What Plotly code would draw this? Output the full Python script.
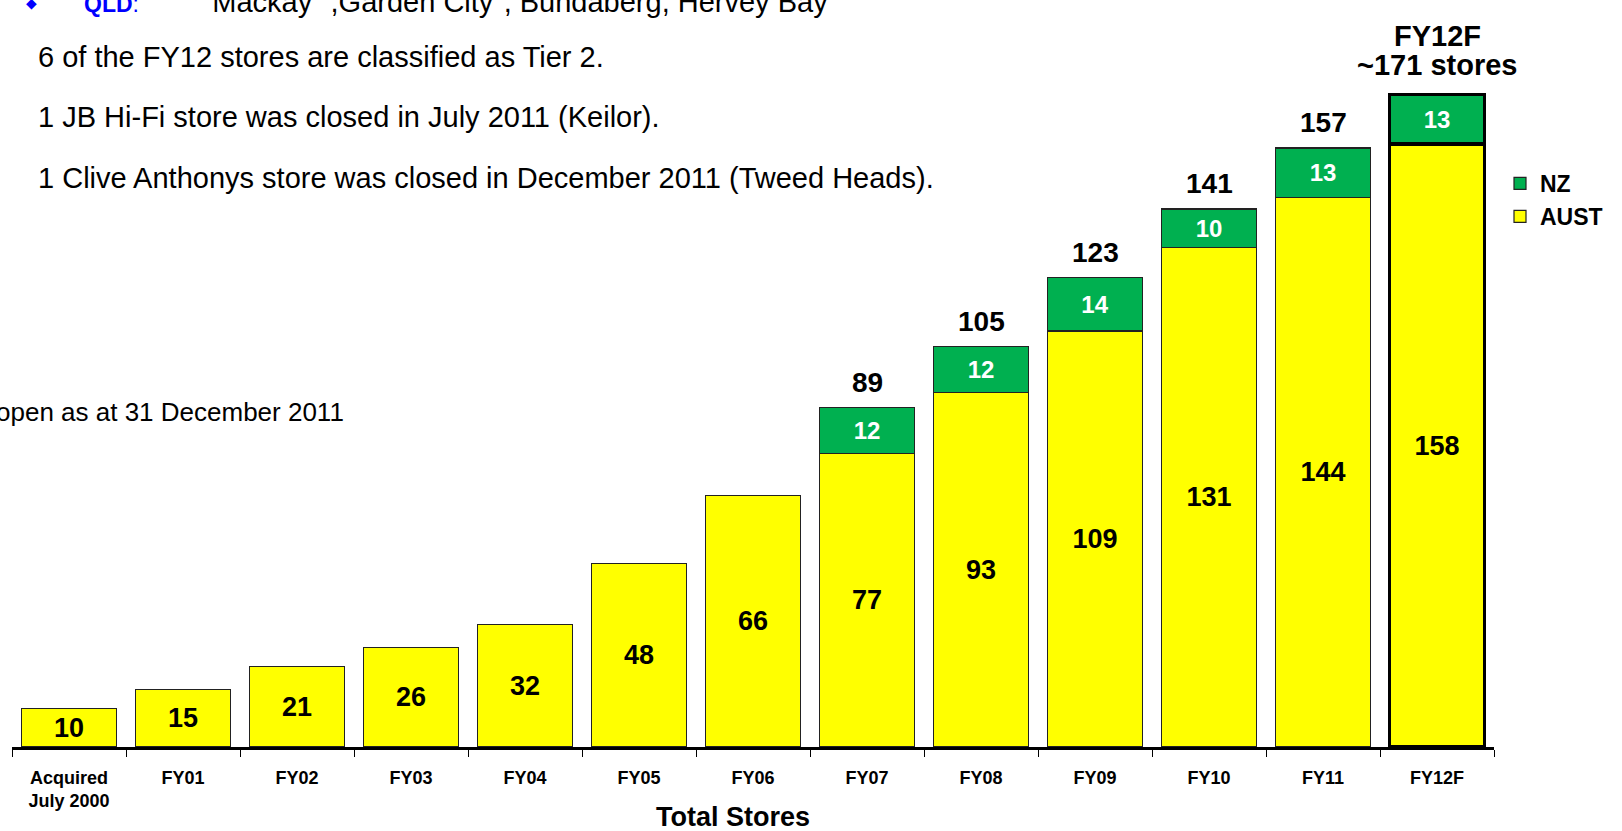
import plotly.graph_objects as go

# Store counts per year, split by country
categories = ["Acquired<br>July 2000", "FY01", "FY02", "FY03", "FY04", "FY05", "FY06",
              "FY07", "FY08", "FY09", "FY10", "FY11", "FY12F"]
aust_stores = [10, 15, 21, 26, 32, 48, 66, 77, 93, 109, 131, 144, 158]
nz_stores = [None, None, None, None, None, None, None, 12, 12, 14, 10, 13, 13]
forecast_label = "FY12F"
forecast_total = "~171 stores"

notes = [
    "6 of the FY12 stores are classified as Tier 2.",
    "1 JB Hi-Fi store was closed in July 2011 (Keilor).",
    "1 Clive Anthonys store was closed in December 2011 (Tweed Heads).",
]
qld_label = "QLD"
qld_text = "\"Mackay\" ,Garden City\", Bundaberg, Hervey Bay"
open_note = "open as at 31 December 2011"
axis_title = "Total Stores"
page_number = "21"

totals = [a + (n or 0) for a, n in zip(aust_stores, nz_stores)]

W, H = 1622, 831
L, R, T, B = 12, 128, 22, 84
plot_w = W - L - R
plot_h = H - T - B
FONT = "Arial, Liberation Sans, sans-serif"


def px(x):
    return (x - L) / plot_w


def py(y):
    return (H - B - y) / plot_h


n_cat = len(categories)
edge_w = [1.2] * (n_cat - 1) + [3.5]
edge_c = ["#222222"] * (n_cat - 1) + ["#000000"]

fig = go.Figure()
fig.add_trace(go.Bar(
    x=categories, y=aust_stores, name="AUST", legendrank=2,
    marker=dict(color="#FFFF00", line=dict(color=edge_c, width=edge_w)),
    texttemplate="<b>%{y}</b>", textposition="inside", insidetextanchor="middle",
    textangle=0, constraintext="none",
    textfont=dict(family=FONT, size=27, color="#000000"),
))
fig.add_trace(go.Bar(
    x=categories, y=nz_stores, name="NZ", legendrank=1,
    marker=dict(color="#00B050", line=dict(color=edge_c, width=edge_w)),
    texttemplate="<b>%{y}</b>", textposition="inside", insidetextanchor="middle",
    textangle=0, constraintext="none",
    textfont=dict(family=FONT, size=24, color="#FFFFFF"),
))

annotations = []
# totals above the stacked bars
for cat, n, tot in zip(categories[:-1], nz_stores[:-1], totals[:-1]):
    if n is not None:
        annotations.append(dict(
            x=cat, y=tot, xref="x", yref="y", text=f"<b>{tot}</b>", showarrow=False,
            yanchor="middle", yshift=25, font=dict(family=FONT, size=28, color="#000000"),
        ))
annotations += [
    dict(x=categories[-1], y=totals[-1], xref="x", yref="y", text=f"<b>{forecast_label}</b>",
         showarrow=False, yanchor="middle", yshift=59,
         font=dict(family=FONT, size=29, color="#000000")),
    dict(x=categories[-1], y=totals[-1], xref="x", yref="y", text=f"<b>{forecast_total}</b>",
         showarrow=False, yanchor="middle", yshift=30,
         font=dict(family=FONT, size=29, color="#000000")),
]

# commentary text
note_y = [57, 117, 178]
for txt, yy in zip(notes, note_y):
    annotations.append(dict(
        x=px(36), y=py(yy), xref="paper", yref="paper", text=txt, showarrow=False,
        xanchor="left", yanchor="middle", font=dict(family=FONT, size=29, color="#000000"),
    ))
annotations += [
    dict(x=px(31), y=py(3), xref="paper", yref="paper", text="◆", showarrow=False,
         xanchor="center", yanchor="middle", font=dict(family=FONT, size=14, color="#0000FF")),
    dict(x=px(82), y=py(4), xref="paper", yref="paper", text=f"<b>{qld_label}</b>:",
         showarrow=False, xanchor="left", yanchor="middle",
         font=dict(family=FONT, size=23, color="#0000FF")),
    dict(x=px(200), y=py(2), xref="paper", yref="paper", text=qld_text, showarrow=False,
         xanchor="left", yanchor="middle", font=dict(family=FONT, size=29, color="#000000")),
    dict(x=px(346), y=py(412), xref="paper", yref="paper", text=open_note, showarrow=False,
         xanchor="right", yanchor="middle", font=dict(family=FONT, size=26, color="#000000")),
    dict(x=px(733), y=py(817), xref="paper", yref="paper", text=f"<b>{axis_title}</b>",
         showarrow=False, xanchor="center", yanchor="middle",
         font=dict(family=FONT, size=27, color="#000000")),
    dict(x=px(1605), y=py(841), xref="paper", yref="paper", text=page_number,
         showarrow=False, xanchor="center", yanchor="middle",
         font=dict(family=FONT, size=28, color="#000000")),
]

fig.update_layout(
    width=W, height=H,
    margin=dict(l=L, r=R, t=T, b=B, autoexpand=False),
    paper_bgcolor="#FFFFFF", plot_bgcolor="#FFFFFF",
    barmode="stack", bargap=0.167,
    font=dict(family=FONT, color="#000000"),
    showlegend=True,
    legend=dict(
        x=px(1500), y=py(162), xanchor="left", yanchor="top",
        traceorder="normal",
        font=dict(family=FONT, size=23, color="#000000", weight="bold"),
        bgcolor="rgba(0,0,0,0)", itemwidth=30,
    ),
    xaxis=dict(
        type="category", range=[-0.5, n_cat - 0.5], showgrid=False,
        showline=True, linecolor="#000000", linewidth=3,
        ticks="outside", tickson="boundaries", ticklen=7, tickcolor="#000000", tickwidth=1,
        ticklabelstandoff=12,
        tickfont=dict(family=FONT, size=18, color="#000000", weight="bold"),
        fixedrange=True,
    ),
    yaxis=dict(range=[0, 190], visible=False, fixedrange=True),
    annotations=annotations,
)

fig.write_html("out.html")
